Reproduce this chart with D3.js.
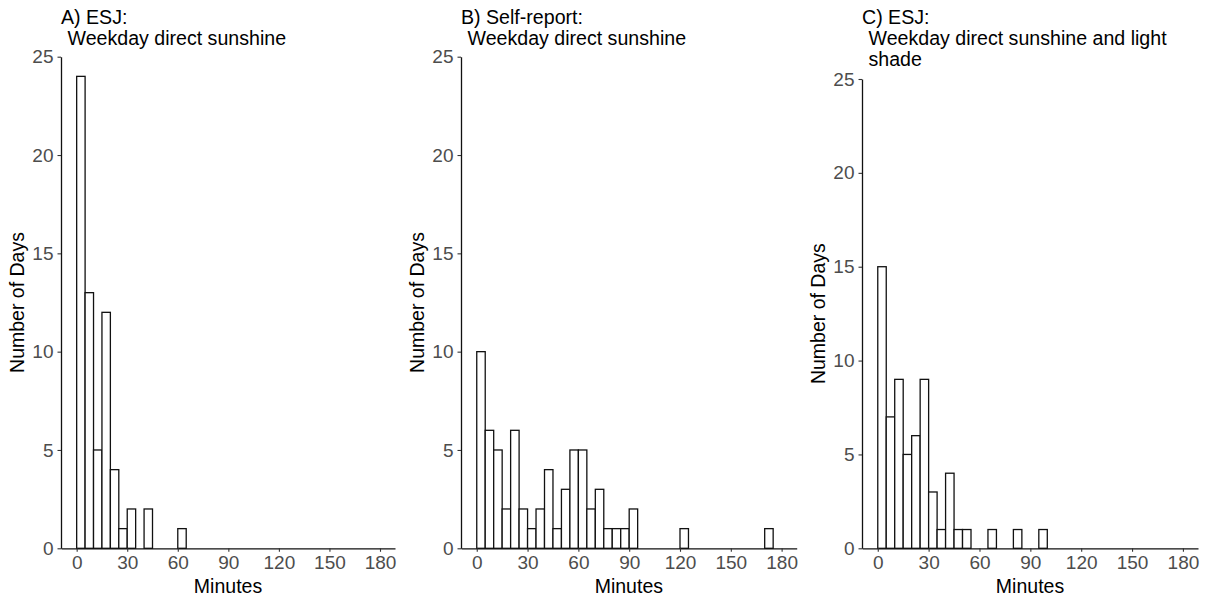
<!DOCTYPE html>
<html><head><meta charset="utf-8">
<script src="https://cdn.jsdelivr.net/npm/d3@7"></script>
<style>
body{margin:0;background:#fff;}
svg{display:block;font-family:"Liberation Sans",Arial,sans-serif;}
</style></head>
<body><svg id="c" width="1209" height="601"></svg>
<script>
// Histogram counts, bins of width 5 minutes starting at 0
const binWidth = 5;
const esjDirect = [24,13,5,12,4,1,2,0,2,0,0,0,1];
const selfReport = [10,6,5,2,6,2,1,2,4,1,3,5,5,2,3,1,1,1,2,0,0,0,0,0,1,0,0,0,0,0,0,0,0,0,1];
const esjShade = [15,7,9,5,6,9,3,1,4,1,1,0,0,1,0,0,1,0,0,1];
const xTicks = [0,30,60,90,120,150,180];
const yTicks = [0,5,10,15,20,25];
const titles = [
  ["A) ESJ:", "Weekday direct sunshine"],
  ["B) Self-report:", "Weekday direct sunshine"],
  ["C) ESJ:", "Weekday direct sunshine and light", "shade"]
];
const xLabel = "Minutes";
const yLabel = "Number of Days";

const panels = [
  {data: esjDirect, left: 61, right: 395, top: 56.7},
  {data: selfReport, left: 461, right: 796.7, top: 56.7},
  {data: esjShade, left: 862, right: 1198, top: 79}
];
const bottom = 548.3;

const svg = d3.select("#c");

panels.forEach((p, i) => {
  const x = d3.scaleLinear().domain([-9.3, 188.9]).range([p.left, p.right]);
  const y = d3.scaleLinear().domain([0, 25]).range([bottom, p.top]);
  const g = svg.append("g");

  const bins = p.data.map((v, k) => ({x0: k * binWidth, x1: (k + 1) * binWidth, n: v})).filter(d => d.n > 0);
  g.selectAll("rect.bar").data(bins).join("rect")
    .attr("class", "bar")
    .attr("x", d => x(d.x0))
    .attr("width", d => x(d.x1) - x(d.x0))
    .attr("y", d => y(d.n))
    .attr("height", d => y(0) - y(d.n))
    .attr("fill", "#fff")
    .attr("stroke", "#111")
    .attr("stroke-width", 1.3);

  const xa = g.append("g").attr("transform", `translate(0,${bottom})`)
    .call(d3.axisBottom(x).tickValues(xTicks).tickSize(3.5).tickPadding(3.5).tickSizeOuter(0));
  const ya = g.append("g").attr("transform", `translate(${p.left},0)`)
    .call(d3.axisLeft(y).tickValues(yTicks).tickSize(3.5).tickPadding(4).tickSizeOuter(0));
  [xa, ya].forEach(a => {
    a.select(".domain").attr("stroke", "#111").attr("stroke-width", 1.3);
    a.selectAll(".tick line").attr("stroke", "#333").attr("stroke-width", 1.1);
    a.selectAll(".tick text").attr("fill", "#4d4d4d").style("font-size", "19px").style("font-family", "Liberation Sans, Arial, sans-serif");
  });

  g.append("text").attr("x", (p.left + p.right) / 2).attr("y", 592.5)
    .attr("text-anchor", "middle").attr("fill", "#000").style("font-size", "19.5px").text(xLabel);
  g.append("text").attr("transform", `translate(${p.left - 37},${(p.top + bottom) / 2}) rotate(-90)`)
    .attr("text-anchor", "middle").attr("fill", "#000").style("font-size", "19.5px").text(yLabel);

  const t = g.append("text").attr("fill", "#000").style("font-size", "19.6px");
  titles[i].forEach((line, j) => {
    t.append("tspan").attr("x", p.left + (j === 0 ? 0 : 6.5)).attr("y", 24 + j * 20.8).text(line);
  });
});
</script></body></html>
